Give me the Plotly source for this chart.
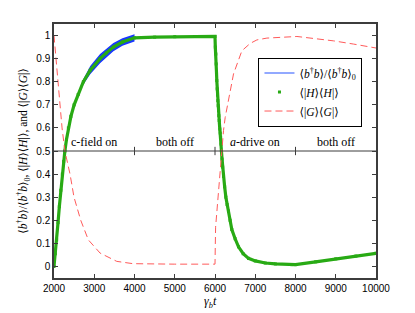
import plotly.graph_objects as go

# ---- data ----
t_b = [2000, 2033, 2066, 2100, 2133, 2170, 2207, 2240, 2270, 2310, 2357, 2420, 2500, 2600, 2730,
       2900, 3144, 3300, 3475, 3700, 4000, 4500, 5000, 5500, 6000,
       6008, 6021, 6029, 6037, 6045, 6054, 6062, 6070, 6079, 6087, 6095, 6104, 6112, 6120,
       6130, 6140, 6150, 6160, 6175, 6190, 6212, 6240, 6270, 6300, 6335, 6375, 6418, 6500,
       6584, 6700, 6832, 7000, 7250, 7500, 7911, 8000, 8500, 9000, 9500, 10000]
pop_b = [0.0, 0.055, 0.115, 0.19, 0.259, 0.33, 0.40, 0.455, 0.50, 0.55, 0.60, 0.65, 0.70, 0.745, 0.80,
         0.85, 0.90, 0.925, 0.95, 0.972, 0.99, 0.993, 0.995, 0.996, 0.996,
         0.95, 0.92, 0.877, 0.841, 0.805, 0.769, 0.742, 0.718, 0.696, 0.675, 0.653, 0.632, 0.613, 0.595,
         0.578, 0.56, 0.53, 0.50, 0.465, 0.43, 0.39, 0.345, 0.30, 0.268, 0.24, 0.20, 0.16, 0.12,
         0.085, 0.055, 0.035, 0.024, 0.015, 0.011, 0.008, 0.008, 0.02, 0.033, 0.045, 0.057]

t_g = [2000, 2050, 2133, 2200, 2270, 2398, 2497, 2664, 2854, 3144, 3559, 3965, 5000, 6000,
       6015, 6070, 6120, 6170, 6212, 6253, 6335, 6460, 6668, 6874, 7040, 7290, 8035,
       8946, 9444, 10000]
pop_g = [1.0, 0.90, 0.70, 0.60, 0.50, 0.40, 0.30, 0.20, 0.115, 0.058, 0.022, 0.012, 0.010, 0.010,
         0.17, 0.287, 0.424, 0.50, 0.589, 0.645, 0.718, 0.834, 0.934, 0.966, 0.981, 0.989, 0.996,
         0.977, 0.963, 0.946]

# envelope of the fast oscillation of <b+b>/<b+b>_0 while the c-field is on
t_band = [2450, 2500, 2600, 2730, 2900, 3144, 3300, 3475, 3700, 4000]
band_hi = [0.675, 0.703, 0.751, 0.812, 0.868, 0.920, 0.944, 0.968, 0.988, 1.006]
band_lo = [0.675, 0.697, 0.739, 0.788, 0.832, 0.880, 0.906, 0.932, 0.956, 0.974]

phase_bounds = [4000, 6000, 8000]
phase_centers = [3000, 5000, 7000, 9000]
phase_labels = ["c-field on", "both off", "<i>a</i>-drive on", "both off"]
phase_level = 0.5

x_ticks = [2000, 3000, 4000, 5000, 6000, 7000, 8000, 9000, 10000]
x_tick_labels = ["2000", "3000", "4000", "5000", "6000", "7000", "8000", "9000", "10000"]
y_ticks = [0, 0.1, 0.2, 0.3, 0.4, 0.5, 0.6, 0.7, 0.8, 0.9, 1]
y_tick_labels = ["0", "0.1", "0.2", "0.3", "0.4", "0.5", "0.6", "0.7", "0.8", "0.9", "1"]

BLUE_LINE = "rgb(110,140,255)"
BLUE_BAND = "rgb(25,55,255)"
GREEN = "rgb(40,170,20)"
RED = "rgb(255,90,90)"
AXIS = "rgb(60,60,60)"
SERIF = "Liberation Serif, DejaVu Serif, serif"
SANS = "Liberation Sans, Arial, sans-serif"

fig = go.Figure()

fig.add_trace(go.Scatter(x=t_band, y=band_hi, mode="lines", line=dict(width=0, color=BLUE_BAND),
                         showlegend=False, hoverinfo="skip"))
fig.add_trace(go.Scatter(x=t_band, y=band_lo, mode="lines", line=dict(width=0, color=BLUE_BAND),
                         fill="tonexty", fillcolor=BLUE_BAND, showlegend=False, hoverinfo="skip"))

fig.add_trace(go.Scatter(x=t_b, y=pop_b, mode="lines", line=dict(width=1.5, color=BLUE_LINE),
                         name="⟨<i>b</i><sup>†</sup><i>b</i>⟩/⟨<i>b</i><sup>†</sup><i>b</i>⟩<sub>0</sub>"))
fig.add_trace(go.Scatter(x=t_b, y=pop_b, mode="lines", line=dict(width=3.2, color=GREEN),
                         showlegend=False, hoverinfo="skip"))
fig.add_trace(go.Scatter(x=t_b, y=pop_b, mode="markers",
                         marker=dict(symbol="square", size=3, color=GREEN, line=dict(width=0)),
                         name="⟨|<i>H</i>⟩⟨<i>H</i>|⟩"))
fig.add_trace(go.Scatter(x=t_g, y=pop_g, mode="lines", line=dict(width=1, color=RED, dash="7px,4px"),
                         name="⟨|<i>G</i>⟩⟨<i>G</i>|⟩"))

# horizontal separator with phase boundary ticks
fig.add_shape(type="line", xref="paper", x0=0, x1=1, yref="y", y0=phase_level, y1=phase_level,
              line=dict(color=AXIS, width=1))
for b in phase_bounds:
    fig.add_shape(type="line", xref="x", x0=b, x1=b, yref="y",
                  y0=phase_level - 0.018, y1=phase_level + 0.018, line=dict(color=AXIS, width=1))
for c, lab in zip(phase_centers, phase_labels):
    fig.add_annotation(x=c, y=phase_level, text=lab, showarrow=False, yanchor="bottom", yshift=0,
                       font=dict(family=SERIF, size=12, color="black"))

# x-axis title placed as annotation just under the tick labels
fig.add_annotation(xref="paper", x=0.485, yref="paper", y=0, yanchor="middle", yshift=-24,
                   text="<i>γ<sub>b</sub>t</i>", showarrow=False,
                   font=dict(family=SERIF, size=12, color="black"))

# the page body adds an 8px offset, so the figure is 8px smaller and margins shifted
fig.update_layout(
    width=407, height=305,
    margin=dict(l=46, r=39, t=16, b=35, autoexpand=False),
    paper_bgcolor="white", plot_bgcolor="white",
    showlegend=True,
    legend=dict(x=0.635, y=0.868, xanchor="left", yanchor="top", bgcolor="white", traceorder="normal",
                bordercolor="black", borderwidth=1, font=dict(family=SERIF, size=11.5, color="black"),
                itemwidth=30, tracegroupgap=0),
)
fig.update_xaxes(range=[2000, 10000], tickvals=x_ticks, ticktext=x_tick_labels, ticks="inside", ticklen=4,
                 tickcolor=AXIS, showline=True, linecolor=AXIS, linewidth=1.5, mirror="ticks",
                 showgrid=False, zeroline=False, automargin=False,
                 tickfont=dict(family=SANS, size=10, color="black"))
fig.update_yaxes(range=[-0.05, 1.05], tickvals=y_ticks, ticktext=y_tick_labels, ticks="inside", ticklen=4,
                 tickcolor=AXIS, showline=True, linecolor=AXIS, linewidth=1.5, mirror="ticks",
                 showgrid=False, zeroline=False, automargin=False,
                 tickfont=dict(family=SANS, size=10, color="black"),
                 title=dict(text="⟨<i>b</i><sup>†</sup><i>b</i>⟩/⟨<i>b</i><sup>†</sup><i>b</i>⟩<sub>0</sub>, "
                                 "⟨|<i>H</i>⟩⟨<i>H</i>|⟩, and ⟨|<i>G</i>⟩⟨<i>G</i>|⟩",
                            font=dict(family=SERIF, size=11.5, color="black"), standoff=6))

fig.write_html("out.html")
